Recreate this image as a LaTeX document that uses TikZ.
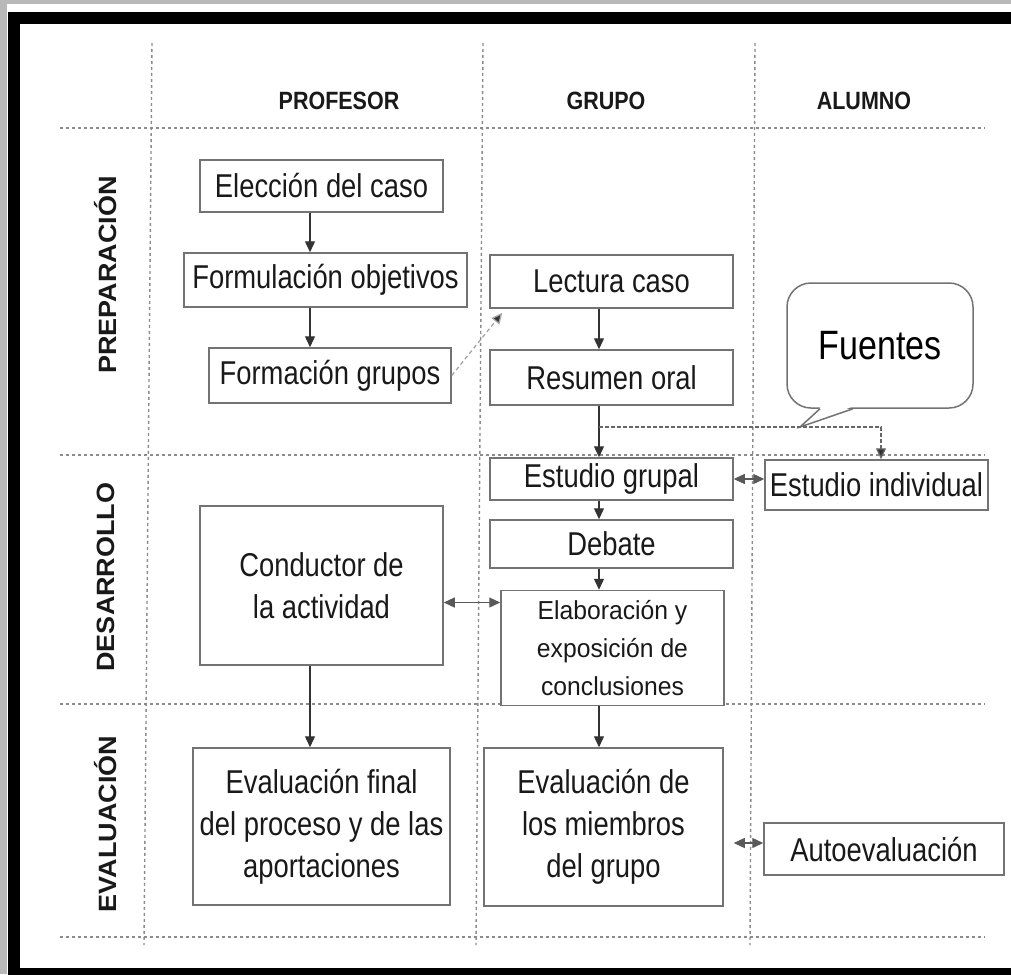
\documentclass[tikz,border=0pt]{standalone}
\usepackage{fontspec}
\setmainfont{Liberation Sans}[FakeStretch=0.83]
\newfontfamily\cabfont{Liberation Sans}[FakeStretch=0.86]
\newfontfamily\fasefont{Liberation Sans}[FakeStretch=1.08]
\newfontfamily\elabfont{Liberation Sans}[FakeStretch=0.95]
\usetikzlibrary{arrows.meta,calc}
\tikzset{
	caja/.style={draw=black!55, line width=1.5pt, fill=white, text=black!90, align=center, inner sep=2pt, font=\fontsize{33}{42}\selectfont},
	flecha/.style={draw=black!80, line width=1.3pt, -{Triangle[length=11pt,width=10pt]}},
	doble/.style={draw=black!65, line width=1.3pt, {Triangle[length=11pt,width=10pt]}-{Triangle[length=11pt,width=10pt]}},
	discont/.style={draw=black!35, line width=1.3pt, dash pattern=on 4pt off 3pt, -{Triangle[length=11pt,width=10pt,fill=black!80]}},
	rama/.style={draw=black!60, line width=1.3pt, dash pattern=on 4pt off 2pt, -{Triangle[length=11pt,width=10pt,fill=black!80]}},
	rejilla/.style={draw=black!45, line width=1.4pt, dash pattern=on 3pt off 3pt},
	cabecera/.style={font=\cabfont\bfseries\fontsize{25}{30}\selectfont, text=black!90},
	fase/.style={font=\fasefont\bfseries\fontsize{25}{30}\selectfont, text=black!90, rotate=90},
	globo/.style={draw=black!55, line width=1.5pt, fill=white, rounded corners=24pt, minimum width=186pt, minimum height=125pt, font=\fontsize{41}{48}\selectfont},
}
\begin{document}
\begin{tikzpicture}[x=1pt,y=-1pt]
			%%%%% START %%%%%
			\useasboundingbox (0,0) rectangle (1011,974);
			
			\fill[black!28] (0,0) rectangle (1011,974);
			\fill[white] (7,4) rectangle (1011,974);
			\draw[line width=12pt] (14,18) rectangle (1040,974);
			
			\draw[rejilla] (60,128) -- (985,128);
			\draw[rejilla] (60,455) -- (985,455);
			\draw[rejilla] (60,704) -- (985,704);
			\draw[rejilla] (60,937) -- (985,937);
			\draw[rejilla] (152,43) -- (144,945);
			\draw[rejilla] (483,43) -- (476,945);
			\draw[rejilla] (755,43) -- (750,945);
			
			\node[cabecera] (profesor) at (339,101) {PROFESOR};
			\node[cabecera] (grupo) at (606,101) {GRUPO};
			\node[cabecera] (alumno) at (864,101) {ALUMNO};
			
			\node[fase] (preparacion) at (106,275) {PREPARACIÓN};
			\node[fase] (desarrollo) at (106,577) {DESARROLLO};
			\node[fase] (evaluacion) at (106,824) {EVALUACIÓN};
			
			\coordinate (colP) at (310,0);
			\coordinate (colG) at (599,0);
			
			\node[caja, minimum width=243pt, minimum height=52pt] (eleccion) at (321.5,186) {Elección del caso};
			\node[caja, minimum width=283pt, minimum height=54pt] (formulacion) at (325.5,280) {Formulación objetivos};
			\node[caja, minimum width=242pt, minimum height=55pt] (formacion) at (330,375.5) {Formación grupos};
			
			\node[caja, minimum width=243pt, minimum height=53pt] (lectura) at (611.5,281.5) {Lectura caso};
			\node[caja, minimum width=243pt, minimum height=55pt] (resumen) at (611.5,377.5) {Resumen oral};
			\node[caja, minimum width=243pt, minimum height=42pt] (grupal) at (611.5,479) {Estudio grupal};
			\node[caja, minimum width=223pt, minimum height=50pt] (individual) at (876.5,485) {Estudio individual};
			\node[caja, minimum width=243pt, minimum height=48pt] (debate) at (611.5,544) {Debate};
			\node[caja, minimum width=223pt, minimum height=115pt, font=\elabfont\fontsize{26}{38}\selectfont] (elaboracion) at (612.5,648) {Elaboración y\\exposición de\\conclusiones};
			
			\node[caja, minimum width=243pt, minimum height=159pt] (conductor) at (321.5,585.5) {Conductor de\\la actividad};
			\node[caja, minimum width=257pt, minimum height=157pt] (evalfinal) at (321.5,826.5) {Evaluación final\\del proceso y de las\\aportaciones};
			\node[caja, minimum width=239pt, minimum height=158pt] (evalmiembros) at (603.5,827) {Evaluación de\\los miembros\\del grupo};
			\node[caja, minimum width=240pt, minimum height=52pt] (autoevaluacion) at (884,849) {Autoevaluación};
			
			\node[globo] (fuentes) at (880,345.5) {Fuentes};
			\coordinate (punta) at (800,427);
			\fill[white] ($(fuentes.south)+(-59,-2)$) -- (punta) -- ($(fuentes.south)+(-28,-2)$) -- cycle;
			\draw[draw=black!55, line width=1.5pt] ($(fuentes.south)+(-60,0)$) -- (punta) -- ($(fuentes.south)+(-27,0)$);
			
			\draw[flecha] (eleccion.south -| colP) -- (formulacion.north -| colP);
			\draw[flecha] (formulacion.south -| colP) -- (formacion.north -| colP);
			\draw[flecha] (conductor.south -| colP) -- (evalfinal.north -| colP);
			
			\draw[flecha] (lectura.south -| colG) -- (resumen.north -| colG);
			\draw[flecha] (resumen.south -| colG) -- (grupal.north -| colG);
			\draw[flecha] (grupal.south -| colG) -- (debate.north -| colG);
			\draw[flecha] (debate.south -| colG) -- (elaboracion.north -| colG);
			\draw[flecha] (elaboracion.south -| colG) -- (evalmiembros.north -| colG);
			
			\draw[discont] (formacion.east) -- ([xshift=13pt,yshift=-4pt]lectura.south west);
			
			\coordinate (bifurca) at (599,427);
			\draw[rama] (bifurca) -| ([xshift=4.5pt]individual.north);
			
			\draw[doble] (grupal.east) -- (grupal.east -| individual.west);
			\draw[doble] ([yshift=-17pt]conductor.east) -- ([yshift=-17pt]conductor.east -| elaboracion.west);
			\draw[doble, shorten <=10pt] ([yshift=-16pt]evalmiembros.east) -- ([yshift=-16pt]evalmiembros.east -| autoevaluacion.west);
			
			%%%%% END %%%%%
\end{tikzpicture}
\end{document}
